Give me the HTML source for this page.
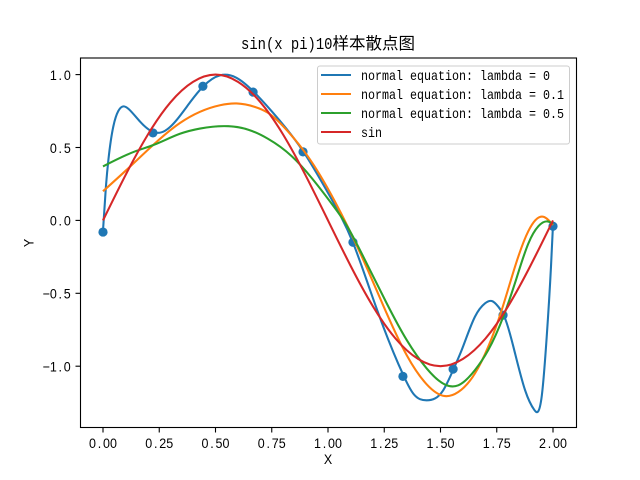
<!DOCTYPE html>
<html>
<head>
<meta charset="utf-8">
<style>
html,body{margin:0;padding:0;background:#fff;width:640px;height:480px;overflow:hidden}
svg{display:block}
text{fill:#000}
.m{font-family:"Liberation Mono",monospace;font-size:13.9px}
.s{font-family:"Liberation Sans",sans-serif;font-size:13.9px;text-anchor:middle}
</style>
</head>
<body>
<svg id="chart" width="640" height="480" viewBox="0 0 640 480" xmlns="http://www.w3.org/2000/svg">
<rect width="640" height="480" fill="#fff"/>
<g id="plot"></g>
<rect x="80.5" y="58" width="496" height="369.5" fill="none" stroke="#000" stroke-width="1.1"/>
<g id="ticks"></g>
<text x="241" y="49" font-family="Liberation Mono, monospace" font-size="16.67" textLength="91.5" lengthAdjust="spacingAndGlyphs">sin(x pi)10</text>
<text x="332.5" y="49" font-family="Liberation Sans, Noto Sans CJK SC, sans-serif" font-size="16.5">样本散点图</text>
<g id="legend">
<rect x="317.5" y="66" width="252" height="78" rx="2.5" fill="#fff" fill-opacity="0.8" stroke="#ccc" stroke-width="1"/>
</g>
</svg>
<script>
var NS = 'http://www.w3.org/2000/svg';

var scatterX = [0, 0.222, 0.444, 0.667, 0.889, 1.111, 1.333, 1.556, 1.778, 2];
var scatterY = [-0.08, 0.60, 0.92, 0.88, 0.47, -0.15, -1.07, -1.02, -0.65, -0.04];

var lambda0X = [0, 0.013, 0.024, 0.046, 0.068, 0.09, 0.12, 0.164, 0.224, 0.276, 0.328, 0.387, 0.446, 0.52, 0.591, 0.668, 0.75, 0.89, 1.0, 1.112, 1.187, 1.246, 1.335, 1.379, 1.439, 1.512, 1.557, 1.594, 1.653, 1.698, 1.728, 1.757, 1.784, 1.824, 1.876, 1.917, 1.95, 1.972, 1.991, 2];
var lambda0Y = [-0.07, 0.232, 0.416, 0.645, 0.75, 0.782, 0.755, 0.679, 0.606, 0.615, 0.69, 0.81, 0.92, 0.995, 0.98, 0.885, 0.748, 0.473, 0.189, -0.157, -0.478, -0.73, -1.062, -1.188, -1.234, -1.165, -1.023, -0.89, -0.661, -0.569, -0.553, -0.592, -0.661, -0.867, -1.165, -1.3, -1.205, -0.799, -0.318, -0.03];

var lambda01X = [0, 0.105, 0.224, 0.342, 0.431, 0.52, 0.594, 0.676, 0.733, 0.822, 0.911, 1.031, 1.157, 1.261, 1.35, 1.439, 1.52, 1.579, 1.653, 1.712, 1.772, 1.831, 1.89, 1.957, 2];
var lambda01Y = [0.20, 0.347, 0.519, 0.668, 0.745, 0.79, 0.802, 0.778, 0.738, 0.61, 0.438, 0.129, -0.271, -0.638, -0.925, -1.125, -1.205, -1.177, -1.05, -0.867, -0.615, -0.318, -0.075, 0.025, -0.031];

var lambda05X = [0, 0.142, 0.224, 0.342, 0.431, 0.557, 0.646, 0.733, 0.839, 0.928, 1.031, 1.068, 1.157, 1.261, 1.35, 1.439, 1.52, 1.579, 1.653, 1.712, 1.779, 1.831, 1.89, 1.935, 1.979, 2];
var lambda05Y = [0.37, 0.473, 0.517, 0.594, 0.63, 0.646, 0.622, 0.56, 0.44, 0.29, 0.084, 0.003, -0.249, -0.569, -0.821, -1.016, -1.126, -1.131, -1.027, -0.89, -0.661, -0.43, -0.16, -0.04, -0.008, -0.024];

var sinX = [0, 0.1, 0.2, 0.3, 0.4, 0.5, 0.6, 0.7, 0.8, 0.9, 1.0, 1.1, 1.2, 1.3, 1.4, 1.5, 1.6, 1.7, 1.8, 1.9, 2];
var sinY = [0, 0.31, 0.59, 0.81, 0.95, 1.0, 0.95, 0.81, 0.59, 0.31, 0, -0.31, -0.59, -0.81, -0.95, -1.0, -0.95, -0.81, -0.59, -0.31, 0];

var xTickValues = [0, 0.25, 0.5, 0.75, 1, 1.25, 1.5, 1.75, 2];
var xTickLabels = ['0.00', '0.25', '0.50', '0.75', '1.00', '1.25', '1.50', '1.75', '2.00'];
var yTickValues = [-1, -0.5, 0, 0.5, 1];
var yTickLabels = ['\u22121.0', '\u22120.5', '0.0', '0.5', '1.0'];
var legendLabels = ['normal equation: lambda = 0', 'normal equation: lambda = 0.1', 'normal equation: lambda = 0.5', 'sin'];
var seriesColors = ['#1f77b4', '#ff7f0e', '#2ca02c', '#d62728'];

function xScale(v) { return 103 + 225 * v; }
function yScale(v) { return 220.4 - 145.8 * v; }

function make(tag, attrs, parent) {
  var el = document.createElementNS(NS, tag);
  for (var k in attrs) el.setAttribute(k, attrs[k]);
  parent.appendChild(el);
  return el;
}

/* C2 cubic spline through the data points, emitted as Bezier segments */
function curve(xs, ys) {
  var px = xs.map(xScale), py = ys.map(yScale), n = px.length;
  var h = [], s = [], a = [], b = [], c = [], r = [], m = [], i;
  for (i = 0; i < n - 1; i++) {
    h.push(px[i + 1] - px[i]);
    s.push((py[i + 1] - py[i]) / h[i]);
  }
  a[0] = 0; b[0] = 2; c[0] = 1; r[0] = 3 * s[0];
  for (i = 1; i < n - 1; i++) {
    a[i] = h[i];
    b[i] = 2 * (h[i - 1] + h[i]);
    c[i] = h[i - 1];
    r[i] = 3 * (h[i] * s[i - 1] + h[i - 1] * s[i]);
  }
  a[n - 1] = 1; b[n - 1] = 2; c[n - 1] = 0; r[n - 1] = 3 * s[n - 2];
  for (i = 1; i < n; i++) {
    var w = a[i] / b[i - 1];
    b[i] -= w * c[i - 1];
    r[i] -= w * r[i - 1];
  }
  m[n - 1] = r[n - 1] / b[n - 1];
  for (i = n - 2; i >= 0; i--) m[i] = (r[i] - c[i] * m[i + 1]) / b[i];
  var d = 'M' + px[0].toFixed(2) + ' ' + py[0].toFixed(2);
  for (i = 0; i < n - 1; i++) {
    var t = h[i] / 3;
    d += 'C' + (px[i] + t).toFixed(2) + ' ' + (py[i] + m[i] * t).toFixed(2) + ' ' +
      (px[i + 1] - t).toFixed(2) + ' ' + (py[i + 1] - m[i + 1] * t).toFixed(2) + ' ' +
      px[i + 1].toFixed(2) + ' ' + py[i + 1].toFixed(2);
  }
  return d;
}

/* grid-spaced label: each character is centred in a 7px slot */
function gridText(str, x0, y, parent, extra) {
  var xsList = [];
  for (var i = 0; i < str.length; i++) xsList.push(((i + 0.5) * 7 / 0.9).toFixed(2));
  var el = make('text', {
    x: xsList.join(' '),
    y: 0,
    'class': 's',
    transform: 'translate(' + x0 + ',' + y + ')' + (extra || '') + ' scale(0.9,1)'
  }, parent);
  el.textContent = str;
  return el;
}

var plot = document.getElementById('plot');
var ticks = document.getElementById('ticks');
var legend = document.getElementById('legend');
var svgRoot = document.getElementById('chart');

scatterX.forEach(function (v, i) {
  var dot = make('circle', { cx: xScale(v), cy: yScale(scatterY[i]), r: 4.6, fill: '#1f77b4' }, plot);
  
  
});

var seriesXs = [lambda0X, lambda01X, lambda05X, sinX];
var seriesYs = [lambda0Y, lambda01Y, lambda05Y, sinY];
var seriesNames = ['line-lambda-0', 'line-lambda-0-1', 'line-lambda-0-5', 'line-sin'];
seriesXs.forEach(function (xs, i) {
  var line = make('path', { d: curve(xs, seriesYs[i]), fill: 'none', stroke: seriesColors[i], 'stroke-width': 2.08 }, plot);
  
  
});

xTickValues.forEach(function (v, i) {
  var x = xScale(v);
  var t = make('line', { x1: x, x2: x, y1: 427.5, y2: 432.5, stroke: '#000', 'stroke-width': 1.1 }, ticks);
  
  
  var label = gridText(xTickLabels[i], x - 14, 448, ticks);
  
  
});

yTickValues.forEach(function (v, i) {
  var y = yScale(v);
  var t = make('line', { x1: 75.5, x2: 80.5, y1: y, y2: y, stroke: '#000', 'stroke-width': 1.1 }, ticks);
  
  
  var label = gridText(yTickLabels[i], 70.8 - yTickLabels[i].length * 7, y + 5.3, ticks);
  
  
});

var xTitle = gridText('X', 324.5, 464, svgRoot);



var yTitle = gridText('Y', 33.5, 246.5, svgRoot, ' rotate(-90)');



legendLabels.forEach(function (s, i) {
  var y = 75 + i * 19;
  var h = make('line', { x1: 321, x2: 351, y1: y, y2: y, stroke: seriesColors[i], 'stroke-width': 2.08 }, legend);
  
  
  var label = make('text', { x: 361, y: y + 5, 'class': 'm', textLength: s.length * 7, lengthAdjust: 'spacingAndGlyphs' }, legend);
  
  
  label.textContent = s;
});
</script>
</body>
</html>
